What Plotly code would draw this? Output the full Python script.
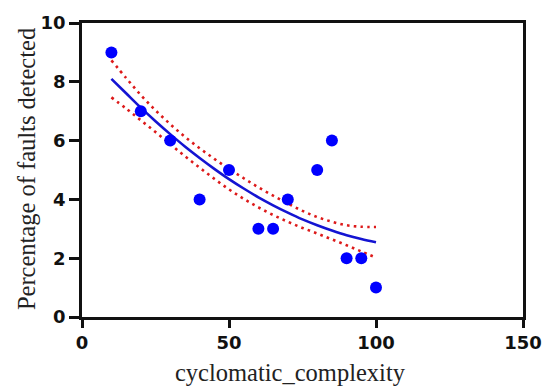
import plotly.graph_objects as go

# Observed data points
complexity = [10, 20, 30, 40, 50, 60, 65, 70, 80, 85, 90, 95, 100]
faults_pct = [9, 7, 6, 4, 5, 3, 3, 4, 5, 6, 2, 2, 1]

# Fitted curve and band
fit_x = [10, 15, 20, 25, 30, 35, 40, 45, 50, 55, 60, 65, 70, 75, 80, 85, 90, 95, 100]
fit_y = [8.10, 7.61, 7.12, 6.66, 6.22, 5.80, 5.41, 5.04, 4.69, 4.37, 4.07, 3.80, 3.55, 3.32, 3.12, 2.94, 2.78, 2.65, 2.54]
band_upper = [8.73, 8.13, 7.55, 7.03, 6.56, 6.13, 5.74, 5.38, 5.04, 4.72, 4.41, 4.13, 3.86, 3.61, 3.40, 3.24, 3.12, 3.07, 3.06]
band_lower = [7.47, 7.09, 6.69, 6.29, 5.88, 5.47, 5.08, 4.70, 4.34, 4.02, 3.73, 3.47, 3.24, 3.03, 2.84, 2.64, 2.44, 2.23, 2.02]

x_ticks = [0, 50, 100, 150]
y_ticks = [0, 2, 4, 6, 8, 10]
x_title = "cyclomatic_complexity"
y_title = "Percentage of faults detected"

fig = go.Figure()
dot_style = dict(color="#dd1a1a", width=2.6, dash="2.6px,4.2px")
fig.add_trace(go.Scatter(x=fit_x, y=band_upper, mode="lines", line=dict(**dot_style, shape="spline"),
                         hoverinfo="skip", showlegend=False))
fig.add_trace(go.Scatter(x=fit_x, y=band_lower, mode="lines", line=dict(**dot_style, shape="spline"),
                         hoverinfo="skip", showlegend=False))
fig.add_trace(go.Scatter(x=fit_x, y=fit_y, mode="lines",
                         line=dict(color="#1414d2", width=2.6, shape="spline"), showlegend=False))
fig.add_trace(go.Scatter(x=complexity, y=faults_pct, mode="markers",
                         marker=dict(color="#0000ff", size=12, line=dict(width=0)), showlegend=False))

tickfont = dict(family="DejaVu Sans", size=18, color="#111111", weight="bold")
axis_common = dict(showgrid=False, zeroline=False, showline=True, linecolor="#111111", linewidth=2.6,
                   mirror=True, ticks="outside", tickwidth=2.6, tickcolor="#111111", tickfont=tickfont,
                   automargin=False)

fig.update_xaxes(range=[0, 150], tickvals=x_ticks, ticktext=[str(v) for v in x_ticks], ticklen=8,
                 **axis_common)
fig.update_yaxes(range=[0, 10], tickvals=y_ticks, ticktext=[str(v) for v in y_ticks], ticklen=10,
                 **axis_common)

title_font = dict(family="Liberation Serif", size=24.5, color="#222222")
fig.update_layout(
    width=543, height=387,
    margin=dict(l=82, r=20, t=23, b=70),
    paper_bgcolor="white", plot_bgcolor="white",
    annotations=[
        dict(text=x_title, xref="paper", yref="paper", x=0.4717, y=-0.188, xanchor="center", yanchor="middle",
             showarrow=False, font=title_font),
        dict(text=y_title, xref="paper", yref="paper", x=-0.127, y=0.503, xanchor="center", yanchor="middle",
             textangle=-90, showarrow=False, font=title_font),
    ],
)

fig.write_html("out.html")
